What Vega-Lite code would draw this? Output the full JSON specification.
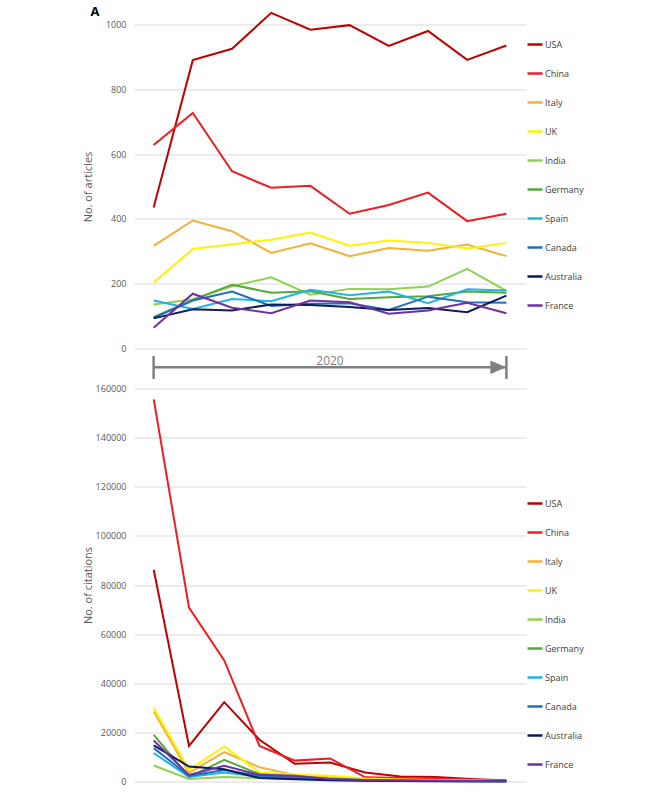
{
  "$schema": "https://vega.github.io/schema/vega-lite/v6.json",
  "background": "white",
  "padding": {"left": 82, "top": 5.5, "right": 5, "bottom": 5},
  "bounds": "flush",
  "spacing": 40,
  "config": {
    "view": {"stroke": null},
    "font": "Open Sans",
    "axisY": {
      "domain": false,
      "ticks": false,
      "grid": true,
      "gridColor": "#D9D9D9",
      "gridWidth": 1,
      "labelColor": "#595959",
      "labelFontSize": 9,
      "labelPadding": 8,
      "titleColor": "#595959",
      "titleFontSize": 11,
      "titleFontWeight": "normal"
    },
    "legend": {
      "orient": "none",
      "title": null,
      "symbolType": "stroke",
      "symbolSize": 225,
      "symbolStrokeWidth": 2.5,
      "labelFontSize": 9,
      "labelColor": "#404040",
      "labelOffset": 1,
      "rowPadding": 15,
      "padding": 0
    }
  },
  "resolve": {"scale": {"color": "independent"}, "legend": {"color": "independent"}},
  "datasets": {
    "articles": [
      {"country": "USA", "t": 1, "n": 435}, {"country": "USA", "t": 2, "n": 890}, {"country": "USA", "t": 3, "n": 925}, {"country": "USA", "t": 4, "n": 1036}, {"country": "USA", "t": 5, "n": 984},
      {"country": "USA", "t": 6, "n": 998}, {"country": "USA", "t": 7, "n": 934}, {"country": "USA", "t": 8, "n": 980}, {"country": "USA", "t": 9, "n": 891}, {"country": "USA", "t": 10, "n": 935},
      {"country": "China", "t": 1, "n": 628}, {"country": "China", "t": 2, "n": 727}, {"country": "China", "t": 3, "n": 547}, {"country": "China", "t": 4, "n": 496}, {"country": "China", "t": 5, "n": 502},
      {"country": "China", "t": 6, "n": 416}, {"country": "China", "t": 7, "n": 443}, {"country": "China", "t": 8, "n": 481}, {"country": "China", "t": 9, "n": 393}, {"country": "China", "t": 10, "n": 416},
      {"country": "Italy", "t": 1, "n": 317}, {"country": "Italy", "t": 2, "n": 395}, {"country": "Italy", "t": 3, "n": 362}, {"country": "Italy", "t": 4, "n": 295}, {"country": "Italy", "t": 5, "n": 325},
      {"country": "Italy", "t": 6, "n": 285}, {"country": "Italy", "t": 7, "n": 310}, {"country": "Italy", "t": 8, "n": 302}, {"country": "Italy", "t": 9, "n": 321}, {"country": "Italy", "t": 10, "n": 285},
      {"country": "UK", "t": 1, "n": 204}, {"country": "UK", "t": 2, "n": 307}, {"country": "UK", "t": 3, "n": 322}, {"country": "UK", "t": 4, "n": 336}, {"country": "UK", "t": 5, "n": 358},
      {"country": "UK", "t": 6, "n": 317}, {"country": "UK", "t": 7, "n": 333}, {"country": "UK", "t": 8, "n": 326}, {"country": "UK", "t": 9, "n": 309}, {"country": "UK", "t": 10, "n": 326},
      {"country": "India", "t": 1, "n": 136}, {"country": "India", "t": 2, "n": 152}, {"country": "India", "t": 3, "n": 192}, {"country": "India", "t": 4, "n": 220}, {"country": "India", "t": 5, "n": 166},
      {"country": "India", "t": 6, "n": 184}, {"country": "India", "t": 7, "n": 183}, {"country": "India", "t": 8, "n": 191}, {"country": "India", "t": 9, "n": 246}, {"country": "India", "t": 10, "n": 178},
      {"country": "Germany", "t": 1, "n": 97}, {"country": "Germany", "t": 2, "n": 150}, {"country": "Germany", "t": 3, "n": 197}, {"country": "Germany", "t": 4, "n": 172}, {"country": "Germany", "t": 5, "n": 177},
      {"country": "Germany", "t": 6, "n": 153}, {"country": "Germany", "t": 7, "n": 158}, {"country": "Germany", "t": 8, "n": 161}, {"country": "Germany", "t": 9, "n": 176}, {"country": "Germany", "t": 10, "n": 172},
      {"country": "Spain", "t": 1, "n": 148}, {"country": "Spain", "t": 2, "n": 122}, {"country": "Spain", "t": 3, "n": 153}, {"country": "Spain", "t": 4, "n": 146}, {"country": "Spain", "t": 5, "n": 181},
      {"country": "Spain", "t": 6, "n": 164}, {"country": "Spain", "t": 7, "n": 176}, {"country": "Spain", "t": 8, "n": 140}, {"country": "Spain", "t": 9, "n": 183}, {"country": "Spain", "t": 10, "n": 179},
      {"country": "Canada", "t": 1, "n": 95}, {"country": "Canada", "t": 2, "n": 148}, {"country": "Canada", "t": 3, "n": 176}, {"country": "Canada", "t": 4, "n": 131}, {"country": "Canada", "t": 5, "n": 138},
      {"country": "Canada", "t": 6, "n": 140}, {"country": "Canada", "t": 7, "n": 119}, {"country": "Canada", "t": 8, "n": 160}, {"country": "Canada", "t": 9, "n": 143}, {"country": "Canada", "t": 10, "n": 141},
      {"country": "Australia", "t": 1, "n": 93}, {"country": "Australia", "t": 2, "n": 121}, {"country": "Australia", "t": 3, "n": 117}, {"country": "Australia", "t": 4, "n": 136}, {"country": "Australia", "t": 5, "n": 134},
      {"country": "Australia", "t": 6, "n": 128}, {"country": "Australia", "t": 7, "n": 119}, {"country": "Australia", "t": 8, "n": 125}, {"country": "Australia", "t": 9, "n": 112}, {"country": "Australia", "t": 10, "n": 163},
      {"country": "France", "t": 1, "n": 64}, {"country": "France", "t": 2, "n": 169}, {"country": "France", "t": 3, "n": 126}, {"country": "France", "t": 4, "n": 109}, {"country": "France", "t": 5, "n": 148},
      {"country": "France", "t": 6, "n": 143}, {"country": "France", "t": 7, "n": 107}, {"country": "France", "t": 8, "n": 117}, {"country": "France", "t": 9, "n": 141}, {"country": "France", "t": 10, "n": 109}
    ],
    "citations": [
      {"country": "USA", "t": 1, "n": 86200}, {"country": "USA", "t": 2, "n": 14500}, {"country": "USA", "t": 3, "n": 32300}, {"country": "USA", "t": 4, "n": 17000}, {"country": "USA", "t": 5, "n": 7200}, {"country": "USA", "t": 6, "n": 7700},
      {"country": "USA", "t": 7, "n": 3700}, {"country": "USA", "t": 8, "n": 2000}, {"country": "USA", "t": 9, "n": 1800}, {"country": "USA", "t": 10, "n": 1000}, {"country": "USA", "t": 11, "n": 400},
      {"country": "China", "t": 1, "n": 155600}, {"country": "China", "t": 2, "n": 70800}, {"country": "China", "t": 3, "n": 49300}, {"country": "China", "t": 4, "n": 14500}, {"country": "China", "t": 5, "n": 8500}, {"country": "China", "t": 6, "n": 9400},
      {"country": "China", "t": 7, "n": 1700}, {"country": "China", "t": 8, "n": 1400}, {"country": "China", "t": 9, "n": 1200}, {"country": "China", "t": 10, "n": 700}, {"country": "China", "t": 11, "n": 400},
      {"country": "Italy", "t": 1, "n": 28500}, {"country": "Italy", "t": 2, "n": 3500}, {"country": "Italy", "t": 3, "n": 12000}, {"country": "Italy", "t": 4, "n": 5800}, {"country": "Italy", "t": 5, "n": 2700}, {"country": "Italy", "t": 6, "n": 1700},
      {"country": "Italy", "t": 7, "n": 1000}, {"country": "Italy", "t": 8, "n": 700}, {"country": "Italy", "t": 9, "n": 500}, {"country": "Italy", "t": 10, "n": 300}, {"country": "Italy", "t": 11, "n": 200},
      {"country": "UK", "t": 1, "n": 29900}, {"country": "UK", "t": 2, "n": 4800}, {"country": "UK", "t": 3, "n": 14300}, {"country": "UK", "t": 4, "n": 3700}, {"country": "UK", "t": 5, "n": 2900}, {"country": "UK", "t": 6, "n": 2300},
      {"country": "UK", "t": 7, "n": 1200}, {"country": "UK", "t": 8, "n": 800}, {"country": "UK", "t": 9, "n": 600}, {"country": "UK", "t": 10, "n": 400}, {"country": "UK", "t": 11, "n": 200},
      {"country": "India", "t": 1, "n": 6500}, {"country": "India", "t": 2, "n": 1000}, {"country": "India", "t": 3, "n": 1800}, {"country": "India", "t": 4, "n": 1400}, {"country": "India", "t": 5, "n": 1100}, {"country": "India", "t": 6, "n": 600},
      {"country": "India", "t": 7, "n": 400}, {"country": "India", "t": 8, "n": 300}, {"country": "India", "t": 9, "n": 200}, {"country": "India", "t": 10, "n": 100}, {"country": "India", "t": 11, "n": 100},
      {"country": "Germany", "t": 1, "n": 19000}, {"country": "Germany", "t": 2, "n": 1800}, {"country": "Germany", "t": 3, "n": 8800}, {"country": "Germany", "t": 4, "n": 3000}, {"country": "Germany", "t": 5, "n": 2000}, {"country": "Germany", "t": 6, "n": 1000},
      {"country": "Germany", "t": 7, "n": 600}, {"country": "Germany", "t": 8, "n": 400}, {"country": "Germany", "t": 9, "n": 300}, {"country": "Germany", "t": 10, "n": 200}, {"country": "Germany", "t": 11, "n": 100},
      {"country": "Spain", "t": 1, "n": 11600}, {"country": "Spain", "t": 2, "n": 1800}, {"country": "Spain", "t": 3, "n": 3700}, {"country": "Spain", "t": 4, "n": 2000}, {"country": "Spain", "t": 5, "n": 1400}, {"country": "Spain", "t": 6, "n": 800},
      {"country": "Spain", "t": 7, "n": 500}, {"country": "Spain", "t": 8, "n": 300}, {"country": "Spain", "t": 9, "n": 200}, {"country": "Spain", "t": 10, "n": 150}, {"country": "Spain", "t": 11, "n": 100},
      {"country": "Canada", "t": 1, "n": 13600}, {"country": "Canada", "t": 2, "n": 2300}, {"country": "Canada", "t": 3, "n": 4700}, {"country": "Canada", "t": 4, "n": 2300}, {"country": "Canada", "t": 5, "n": 1600}, {"country": "Canada", "t": 6, "n": 900},
      {"country": "Canada", "t": 7, "n": 500}, {"country": "Canada", "t": 8, "n": 300}, {"country": "Canada", "t": 9, "n": 200}, {"country": "Canada", "t": 10, "n": 150}, {"country": "Canada", "t": 11, "n": 100},
      {"country": "Australia", "t": 1, "n": 14700}, {"country": "Australia", "t": 2, "n": 6100}, {"country": "Australia", "t": 3, "n": 5000}, {"country": "Australia", "t": 4, "n": 1400}, {"country": "Australia", "t": 5, "n": 900}, {"country": "Australia", "t": 6, "n": 500},
      {"country": "Australia", "t": 7, "n": 300}, {"country": "Australia", "t": 8, "n": 200}, {"country": "Australia", "t": 9, "n": 150}, {"country": "Australia", "t": 10, "n": 100}, {"country": "Australia", "t": 11, "n": 100},
      {"country": "France", "t": 1, "n": 16700}, {"country": "France", "t": 2, "n": 2700}, {"country": "France", "t": 3, "n": 6400}, {"country": "France", "t": 4, "n": 2700}, {"country": "France", "t": 5, "n": 2300}, {"country": "France", "t": 6, "n": 1000},
      {"country": "France", "t": 7, "n": 600}, {"country": "France", "t": 8, "n": 400}, {"country": "France", "t": 9, "n": 300}, {"country": "France", "t": 10, "n": 200}, {"country": "France", "t": 11, "n": 100}
    ],
    "ends": [{"t": 1}, {"t": 10}],
    "one": [{"label": "2020"}]
  },
  "vconcat": [
    {
      "title": {"text": "A", "anchor": "start", "frame": "bounds", "fontSize": 13, "fontWeight": "bold", "color": "#000000", "offset": -10, "dx": 7.5},
      "width": 392,
      "height": 324,
      "layer": [
        {
          "data": {"name": "articles"},
          "mark": {"type": "line", "strokeWidth": 2},
          "encoding": {
            "x": {"field": "t", "type": "quantitative", "scale": {"domain": [0.5, 10.5], "nice": false, "zero": false}, "axis": null},
            "y": {"field": "n", "type": "quantitative", "scale": {"domain": [0, 1000], "nice": false}, "axis": {"values": [0, 200, 400, 600, 800, 1000], "format": "d", "title": "No. of articles", "titlePadding": 11.5}},
            "color": {
              "field": "country", "type": "nominal",
              "scale": {
                "domain": ["USA", "China", "Italy", "UK", "India", "Germany", "Spain", "Canada", "Australia", "France"],
                "range": ["#C00000", "#F01C24", "#F7B034", "#FFF200", "#92D050", "#55A83A", "#1EB4EA", "#1F6FBF", "#0A1C5C", "#7030A0"]
              },
              "legend": {"legendX": 392, "legendY": 11}
            }
          }
        },
        {
          "data": {"name": "one"},
          "mark": {"type": "rule", "color": "#808080", "strokeWidth": 2.5},
          "encoding": {"x": {"datum": 1}, "x2": {"datum": 10}, "y": {"datum": -58}}
        },
        {
          "data": {"name": "ends"},
          "mark": {"type": "rule", "color": "#808080", "strokeWidth": 2.5},
          "encoding": {"x": {"field": "t", "type": "quantitative"}, "y": {"datum": -23}, "y2": {"datum": -94}}
        },
        {
          "data": {"name": "one"},
          "mark": {"type": "point", "shape": "M-1,-0.42L0,0L-1,0.42Z", "size": 1024, "filled": true, "color": "#808080", "opacity": 1},
          "encoding": {"x": {"datum": 10}, "y": {"datum": -58}}
        },
        {
          "data": {"name": "one"},
          "mark": {"type": "text", "color": "#7F7F7F", "fontSize": 12, "baseline": "middle"},
          "encoding": {"x": {"datum": 5.5}, "y": {"datum": -39}, "text": {"field": "label"}}
        }
      ]
    },
    {
      "width": 392,
      "height": 393,
      "data": {"name": "citations"},
      "mark": {"type": "line", "strokeWidth": 2},
      "encoding": {
        "x": {"field": "t", "type": "quantitative", "scale": {"domain": [0.44, 11.56], "nice": false, "zero": false}, "axis": null},
        "y": {"field": "n", "type": "quantitative", "scale": {"domain": [0, 160000], "nice": false}, "axis": {"values": [0, 20000, 40000, 60000, 80000, 100000, 120000, 140000, 160000], "format": "d", "title": "No. of citations", "titlePadding": 2}},
        "color": {
          "field": "country", "type": "nominal",
          "scale": {
            "domain": ["USA", "China", "Italy", "UK", "India", "Germany", "Spain", "Canada", "Australia", "France"],
            "range": ["#C00000", "#F01C24", "#F7B034", "#FFF200", "#92D050", "#55A83A", "#1EB4EA", "#1F6FBF", "#0A1C5C", "#7030A0"]
          },
          "legend": {"legendX": 392, "legendY": 106}
        }
      }
    }
  ]
}
